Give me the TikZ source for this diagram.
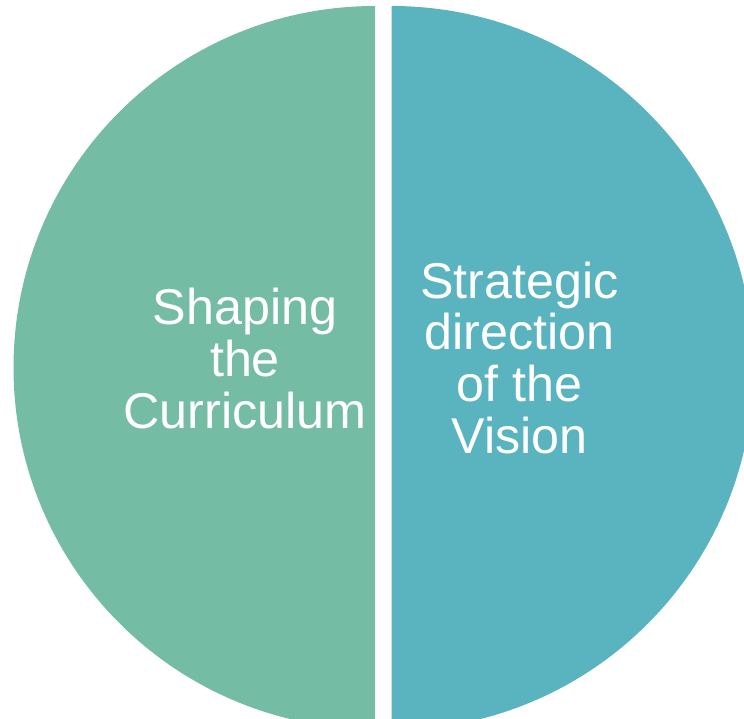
\documentclass[tikz,border=0pt]{standalone}
\usepackage{fontspec}
\setmainfont{Liberation Sans}
\definecolor{leftc}{RGB}{117,188,165}
\definecolor{rightc}{RGB}{89,180,191}
\begin{document}
\begin{tikzpicture}[x=1pt,y=1pt,
  lbl/.style={text=white,font=\fontsize{50.3}{51.8}\selectfont,align=center,inner sep=0pt,anchor=base}]
\useasboundingbox (0,0) rectangle (744,-718);
\clip (0,0) rectangle (744,-718);
\fill[leftc] (375,-6) arc[start angle=90,end angle=270,radius=361.5] -- cycle;
\fill[rightc] (391.5,-6) arc[start angle=90,end angle=-90,radius=362] -- cycle;
\node[lbl] (shaping) at (245,-428.5) {Shaping\\the\\Curriculum};
\node[lbl] (strategic) at (519.5,-453.5) {Strategic\\direction\\of the\\Vision};
\end{tikzpicture}
\end{document}
